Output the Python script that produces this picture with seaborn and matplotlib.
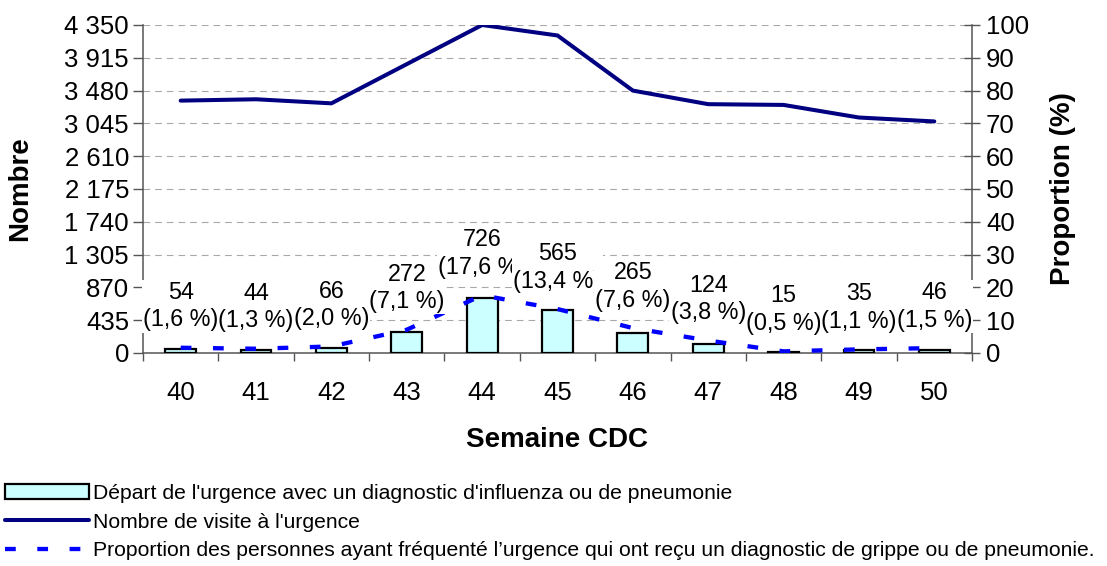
import numpy as np
import matplotlib
matplotlib.use("Agg")
import matplotlib.pyplot as plt
from matplotlib.lines import Line2D
from matplotlib.patches import Patch
from matplotlib.ticker import FuncFormatter, MultipleLocator
import seaborn as sns

# Data
weeks = ['40', '41', '42', '43', '44', '45', '46', '47', '48', '49', '50']
departs = [54, 44, 66, 272, 726, 565, 265, 124, 15, 35, 46]
visites = [3347, 3365, 3311, 3831, 4350, 4211, 3480, 3300, 3290, 3123, 3071]
proportion = [1.6, 1.3, 2.0, 7.1, 17.6, 13.4, 7.6, 3.8, 0.5, 1.1, 1.5]

legend_labels = [
    "Départ de l'urgence avec un diagnostic d'influenza ou de pneumonie",
    "Nombre de visite à l'urgence",
    "Proportion des personnes ayant fréquenté l’urgence qui ont reçu un diagnostic de grippe ou de pneumonie.",
]

sns.set_theme(style="white")
plt.rcParams['font.family'] = ['Liberation Sans', 'DejaVu Sans']
plt.rcParams.update({'text.color': 'black', 'axes.labelcolor': 'black',
                     'xtick.color': 'black', 'ytick.color': 'black'})

fig = plt.figure(figsize=(11.07, 5.66), dpi=100)
ax = fig.add_axes([143 / 1107, 1 - 353 / 566, (972 - 143) / 1107, (353 - 25) / 566])
ax2 = ax.twinx()

pos = np.arange(len(weeks))

# bars and visit count on the left axis
sns.barplot(x=weeks, y=departs, ax=ax, color='#CCFFFF', saturation=1,
            edgecolor='black', linewidth=1.6, width=0.41, zorder=3)
sns.lineplot(x=pos, y=visites, ax=ax, color='#000080', linewidth=2.9, zorder=4)

# proportion on the right axis
sns.lineplot(x=pos, y=proportion, ax=ax2, color='#0000FF', linewidth=3.1, zorder=4)
ax2.lines[0].set_dashes((2.5, 5))

ax.set_xlim(-0.5, len(weeks) - 0.5)
ax.set_ylim(0, 4350)
ax2.set_ylim(0, 100)
ax.yaxis.set_major_locator(MultipleLocator(435))
ax2.yaxis.set_major_locator(MultipleLocator(10))
ax.yaxis.set_major_formatter(FuncFormatter(lambda v, p: f"{int(v):,}".replace(',', ' ')))

ax.yaxis.grid(True, color='#a8a8a8', linewidth=0.8, linestyle=(0, (6, 4.5)))
ax.set_axisbelow(True)

for a in (ax, ax2):
    for s in ('top', 'bottom', 'left', 'right'):
        a.spines[s].set_visible(False)
ax.spines['left'].set_visible(True)
ax.spines['bottom'].set_visible(True)
ax2.spines['right'].set_visible(True)
for s in (ax.spines['left'], ax.spines['bottom'], ax2.spines['right']):
    s.set_color('#555555')
    s.set_linewidth(1.1)

ax.tick_params(axis='y', direction='out', length=7, width=1, color='#555555',
               labelsize=18.5, pad=3, left=True)
ax2.tick_params(axis='y', direction='inout', length=12, width=1, color='#555555',
                labelsize=18.5, pad=4, right=True)
ax.set_xticks(pos)
ax.set_xticklabels(weeks)
ax.set_xticks(np.arange(len(weeks) + 1) - 0.5, minor=True)
ax.tick_params(axis='x', which='major', length=0, labelsize=18.5, pad=20)
ax.tick_params(axis='x', which='minor', direction='out', length=6, width=1,
               color='#555555', bottom=True)

ax.set_xlabel('Semaine CDC', fontsize=20, fontweight='bold')
ax.set_ylabel('Nombre', fontsize=20, fontweight='bold')
ax2.set_ylabel('Proportion (%)', fontsize=20, fontweight='bold')
ax.xaxis.set_label_coords(0.5, -0.225)
ax.yaxis.set_label_coords(-0.133, 0.5)
ax2.yaxis.set_label_coords(1.094, 0.5)

# data labels, white boxes hide what lies behind them
for i, (d, p) in enumerate(zip(departs, proportion)):
    txt = f"{d}\n({p:.1f} %)".replace('.', ',')
    ax2.annotate(txt, xy=(i, p), xytext=(0, 30), textcoords='offset points',
                 ha='center', va='center', fontsize=16.8, linespacing=1.25,
                 zorder=6, annotation_clip=False,
                 bbox=dict(boxstyle='square,pad=0.05', fc='white', ec='none'))

handles = [
    Patch(facecolor='#CCFFFF', edgecolor='black', linewidth=1.6),
    Line2D([], [], color='#000080', linewidth=2.9),
    Line2D([], [], color='#0000FF', linewidth=3.1, dashes=(2.5, 5)),
]
fig.legend(handles, legend_labels, loc='upper left', bbox_to_anchor=(5 / 1107, 1 - 484 / 566),
           frameon=False, fontsize=15.2, handlelength=4.0, handletextpad=0.15,
           labelspacing=0.45, borderaxespad=0, borderpad=0)

fig.savefig('out.png', dpi=100)
